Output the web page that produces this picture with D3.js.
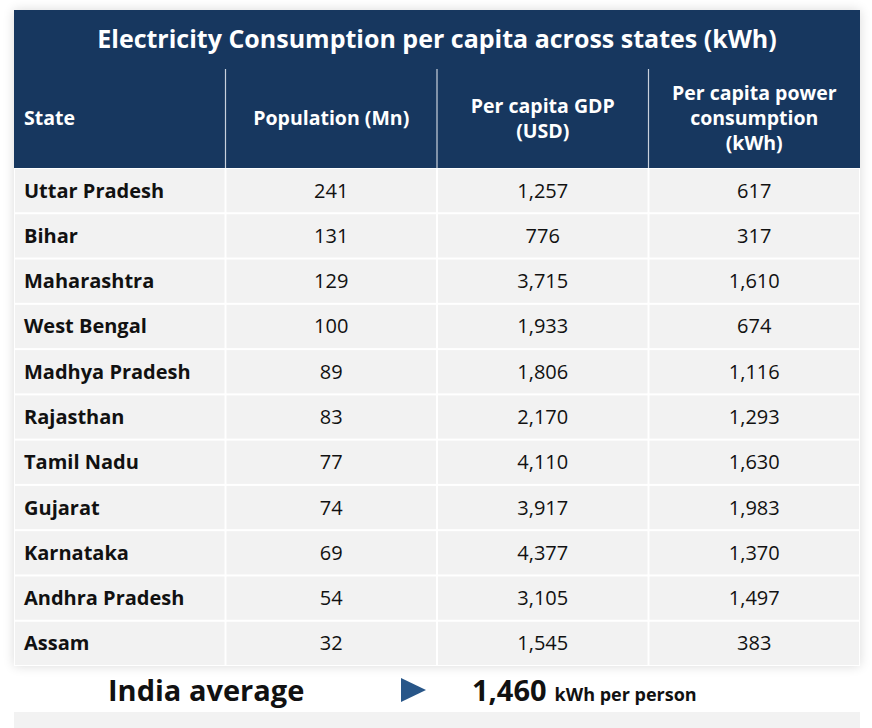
<!DOCTYPE html>
<html><head><meta charset="utf-8">
<script src="https://cdn.jsdelivr.net/npm/d3@7"></script>
<style>body{margin:0;background:#fff;font-family:"Open Sans","Noto Sans",sans-serif}</style>
</head><body><svg id="c" width="872" height="728"></svg>
<script>
const title = "Electricity Consumption per capita across states (kWh)";
const headers = [["State"],["Population (Mn)"],["Per capita GDP","(USD)"],["Per capita power","consumption","(kWh)"]];
const states = ["Uttar Pradesh","Bihar","Maharashtra","West Bengal","Madhya Pradesh","Rajasthan","Tamil Nadu","Gujarat","Karnataka","Andhra Pradesh","Assam"];
const population = [241,131,129,100,89,83,77,74,69,54,32];
const gdp = [1257,776,3715,1933,1806,2170,4110,3917,4377,3105,1545];
const power = [617,317,1610,674,1116,1293,1630,1983,1370,1497,383];
const avgValue = 1460;

const svg = d3.select("#c");
const navy = "#17375f";
const fmt = d3.format(",");
const x = d3.scaleBand().domain(d3.range(4)).range([14,860]).paddingInner(0);
const y = d3.scaleBand().domain(d3.range(states.length)).range([168,666]);

// shadow
const defs = svg.append("defs");
const f = defs.append("filter").attr("id","sh").attr("x","-5%").attr("y","-5%").attr("width","110%").attr("height","110%");
f.append("feGaussianBlur").attr("in","SourceAlpha").attr("stdDeviation",6);
f.append("feComponentTransfer").append("feFuncA").attr("type","linear").attr("slope",0.15);
const m = f.append("feMerge"); m.append("feMergeNode"); m.append("feMergeNode").attr("in","SourceGraphic");
svg.append("rect").attr("x",14).attr("y",10).attr("width",846).attr("height",656).attr("fill","#fff").attr("filter","url(#sh)");

svg.append("rect").attr("x",14).attr("y",10).attr("width",846).attr("height",158).attr("fill",navy);
svg.append("text").attr("x",437).attr("y",48).attr("text-anchor","middle").attr("fill","#fff")
  .attr("font-size",25).attr("font-weight",700).text(title);
// header separators
[1,2,3].forEach(i=>svg.append("line").attr("x1",x(i)).attr("x2",x(i)).attr("y1",69).attr("y2",168).attr("stroke","#c8d0dc").attr("stroke-width",1.2));
headers.forEach((h,i)=>{
  const t = svg.append("text").attr("fill","#fff").attr("font-size",19.5).attr("font-weight",700)
    .attr("text-anchor", i===0?"start":"middle");
  const cx = i===0 ? 24 : x(i)+x.bandwidth()/2;
  const lh = 25, y0 = 125 - (h.length-1)*lh/2;
  h.forEach((s,k)=>t.append("tspan").attr("x",cx).attr("y",y0+k*lh).text(s));
});
// rows
const rows = svg.selectAll("g.row").data(states).join("g").attr("class","row");
rows.each(function(s,r){
  const g = d3.select(this);
  const vals = [s, population[r], fmt(gdp[r]), fmt(power[r])];
  vals.forEach((v,i)=>{
    g.append("rect").attr("x",x(i)+1).attr("y",y(r)+1).attr("width",x.bandwidth()-2).attr("height",y.bandwidth()-2).attr("fill","#f2f2f2");
    g.append("text").attr("x", i===0?24:x(i)+x.bandwidth()/2).attr("y",y(r)+y.bandwidth()/2+7)
      .attr("text-anchor", i===0?"start":"middle").attr("font-size",20).attr("fill","#111")
      .attr("font-weight", i===0?700:400).text(v);
  });
});
// footer
svg.append("text").attr("x",108).attr("y",701).attr("font-size",29).attr("font-weight",700).attr("fill","#111").text("India average");
svg.append("path").attr("d","M401,678 L426,690 L401,702 Z").attr("fill","#285688");
const ft = svg.append("text").attr("x",472).attr("y",701).attr("fill","#111").attr("font-weight",700);
ft.append("tspan").attr("font-size",29).text(fmt(avgValue));
ft.append("tspan").attr("font-size",18).attr("dx",8).text("kWh per person");
svg.append("rect").attr("x",14).attr("y",712).attr("width",846).attr("height",16).attr("fill","#f2f2f2");
</script></body></html>
